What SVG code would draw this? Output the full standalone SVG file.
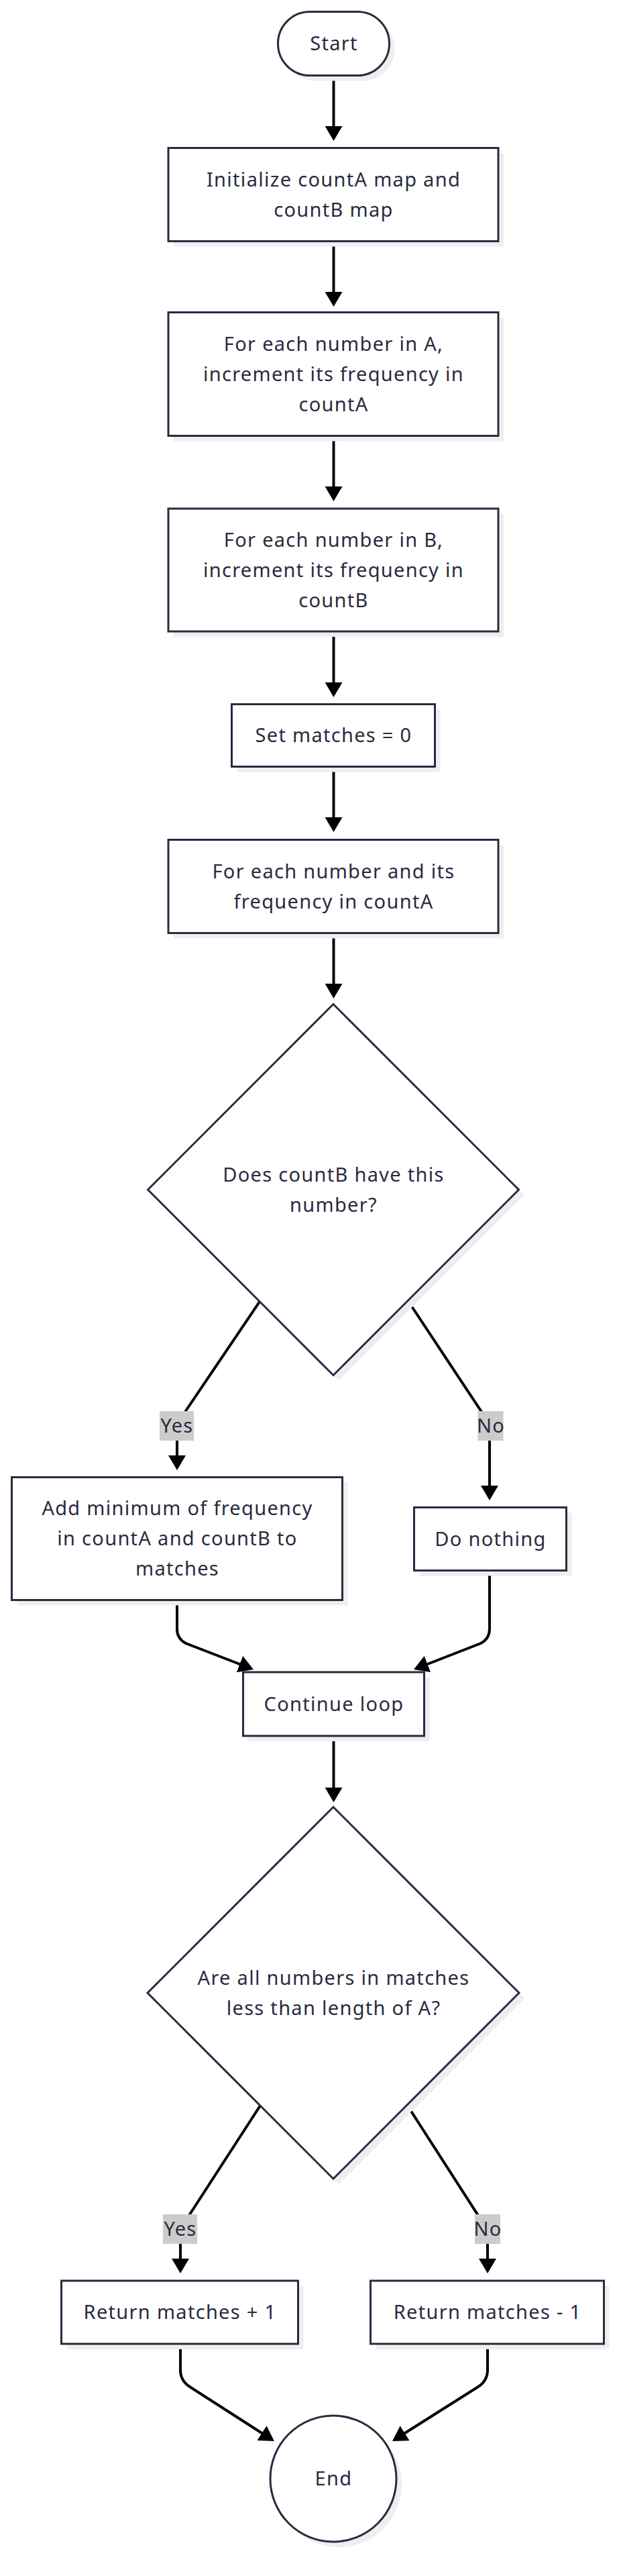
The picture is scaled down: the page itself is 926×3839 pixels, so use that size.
<svg xmlns="http://www.w3.org/2000/svg" width="926" height="3839" viewBox="0 0 926 3839">
<style>
.sh{fill:#eeeeee;stroke:none}
.nd{fill:#ffffff;stroke:#2a2a40;stroke-width:3}
.tx{font-family:"Noto Sans","Liberation Sans",sans-serif;font-size:29px;letter-spacing:1.3px;fill:#2a2a40;text-anchor:middle}
.ed{fill:none;stroke:#000000;stroke-width:4}
.lb{fill:#cccccc}
</style>
<defs>
<marker id="arr" viewBox="0 0 22 26" refX="11" refY="13" markerWidth="22" markerHeight="26" markerUnits="userSpaceOnUse" orient="auto">
<path d="M0,0 L22,13 L0,26 z" fill="#000000"/>
</marker>
</defs>
<rect width="926" height="3839" fill="#ffffff"/>
<g id="connectors">
<path class="ed" marker-end="url(#arr)" d="M497.5,113 L497.5,199"/>
<path class="ed" marker-end="url(#arr)" d="M497.5,360 L497.5,446"/>
<path class="ed" marker-end="url(#arr)" d="M497.5,651 L497.5,736"/>
<path class="ed" marker-end="url(#arr)" d="M497.5,942 L497.5,1028"/>
<path class="ed" marker-end="url(#arr)" d="M497.5,1144 L497.5,1229"/>
<path class="ed" marker-end="url(#arr)" d="M497.5,1391 L497.5,1477"/>
<path class="ed" marker-end="url(#arr)" d="M387,1940 L272,2110 Q264,2122 264,2136 L264,2180"/>
<path class="ed" marker-end="url(#arr)" d="M608,1938 L722,2110 Q730,2122 730,2136 L730,2225"/>
<path class="ed" marker-end="url(#arr)" d="M264,2386 L264,2428 Q264,2442 277,2449 L367.7,2484"/>
<path class="ed" marker-end="url(#arr)" d="M730,2342 L730,2428 Q730,2442 717,2449 L627.2,2484"/>
<path class="ed" marker-end="url(#arr)" d="M497.5,2589 L497.5,2675"/>
<path class="ed" marker-end="url(#arr)" d="M388,3138 L283,3300 Q269,3320 269,3340 L269,3377"/>
<path class="ed" marker-end="url(#arr)" d="M607,3137 L712,3300 Q727,3320 727,3340 L727,3377"/>
<path class="ed" marker-end="url(#arr)" d="M269,3494 L269,3532 Q269,3548 283,3557 L399.7,3632"/>
<path class="ed" marker-end="url(#arr)" d="M727,3494 L727,3532 Q727,3548 713,3557 L594.3,3632"/>
</g>
<g id="edge-labels">
<rect class="lb" x="238" y="2103" width="51" height="44"/>
<text class="tx" x="264" y="2135">Yes</text>
<rect class="lb" x="712.5" y="2103" width="38" height="44"/>
<text class="tx" x="732" y="2135">No</text>
<rect class="lb" x="243" y="3300" width="51" height="44"/>
<text class="tx" x="269" y="3332">Yes</text>
<rect class="lb" x="708" y="3300" width="38" height="44"/>
<text class="tx" x="727.5" y="3332">No</text>
</g>
<g id="start">
<rect class="sh" x="422.5" y="25.5" width="166" height="95" rx="47.5"/>
<rect class="nd" x="414.5" y="17.5" width="166" height="95" rx="47.5"/>
<text class="tx" x="498" y="75">Start</text>
</g>
<g id="init">
<rect class="sh" x="259" y="228.5" width="492" height="139"/>
<rect class="nd" x="251" y="220.5" width="492" height="139"/>
<text class="tx" x="497.5" y="277.5">Initialize countA map and</text>
<text class="tx" x="497.5" y="322.5">countB map</text>
</g>
<g id="countA">
<rect class="sh" x="259" y="473.5" width="492" height="184"/>
<rect class="nd" x="251" y="465.5" width="492" height="184"/>
<text class="tx" x="497.5" y="522.5">For each number in A,</text>
<text class="tx" x="497.5" y="567.5">increment its frequency in</text>
<text class="tx" x="497.5" y="612.5">countA</text>
</g>
<g id="countB">
<rect class="sh" x="259" y="766" width="492" height="183"/>
<rect class="nd" x="251" y="758" width="492" height="183"/>
<text class="tx" x="497.5" y="814.5">For each number in B,</text>
<text class="tx" x="497.5" y="859.5">increment its frequency in</text>
<text class="tx" x="497.5" y="904.5">countB</text>
</g>
<g id="setMatches">
<rect class="sh" x="353.5" y="1057.5" width="303" height="93"/>
<rect class="nd" x="345.5" y="1049.5" width="303" height="93"/>
<text class="tx" x="497.5" y="1106">Set matches = 0</text>
</g>
<g id="loop">
<rect class="sh" x="259" y="1259.5" width="492" height="139"/>
<rect class="nd" x="251" y="1251.5" width="492" height="139"/>
<text class="tx" x="497.5" y="1308.5">For each number and its</text>
<text class="tx" x="497.5" y="1353.5">frequency in countA</text>
</g>
<g id="decision1">
<polygon class="sh" points="505,1504.5 781.5,1781 505,2057.5 228.5,1781"/>
<polygon class="nd" points="497,1496.5 773.5,1773 497,2049.5 220.5,1773"/>
<text class="tx" x="497.5" y="1760.5">Does countB have this</text>
<text class="tx" x="497.5" y="1805.5">number?</text>
</g>
<g id="addMin">
<rect class="sh" x="25.5" y="2209.5" width="493" height="183"/>
<rect class="nd" x="17.5" y="2201.5" width="493" height="183"/>
<text class="tx" x="264.5" y="2258">Add minimum of frequency</text>
<text class="tx" x="264.5" y="2303">in countA and countB to</text>
<text class="tx" x="264.5" y="2348">matches</text>
</g>
<g id="doNothing">
<rect class="sh" x="625.5" y="2254.5" width="227" height="94"/>
<rect class="nd" x="617.5" y="2246.5" width="227" height="94"/>
<text class="tx" x="731.5" y="2303.5">Do nothing</text>
</g>
<g id="continue">
<rect class="sh" x="370.5" y="2500" width="270" height="95"/>
<rect class="nd" x="362.5" y="2492" width="270" height="95"/>
<text class="tx" x="498" y="2549.5">Continue loop</text>
</g>
<g id="decision2">
<polygon class="sh" points="505,2701 782,2978 505,3255 228,2978"/>
<polygon class="nd" points="497,2693 774,2970 497,3247 220,2970"/>
<text class="tx" x="497.5" y="2958">Are all numbers in matches</text>
<text class="tx" x="497.5" y="3003">less than length of A?</text>
</g>
<g id="returnPlus">
<rect class="sh" x="99.5" y="3407" width="353" height="94"/>
<rect class="nd" x="91.5" y="3399" width="353" height="94"/>
<text class="tx" x="268.5" y="3456">Return matches + 1</text>
</g>
<g id="returnMinus">
<rect class="sh" x="560.5" y="3407" width="348" height="94"/>
<rect class="nd" x="552.5" y="3399" width="348" height="94"/>
<text class="tx" x="727" y="3456">Return matches - 1</text>
</g>
<g id="end">
<circle class="sh" cx="505" cy="3702" r="94"/>
<circle class="nd" cx="497" cy="3694" r="94"/>
<text class="tx" x="497.5" y="3704">End</text>
</g>
</svg>
